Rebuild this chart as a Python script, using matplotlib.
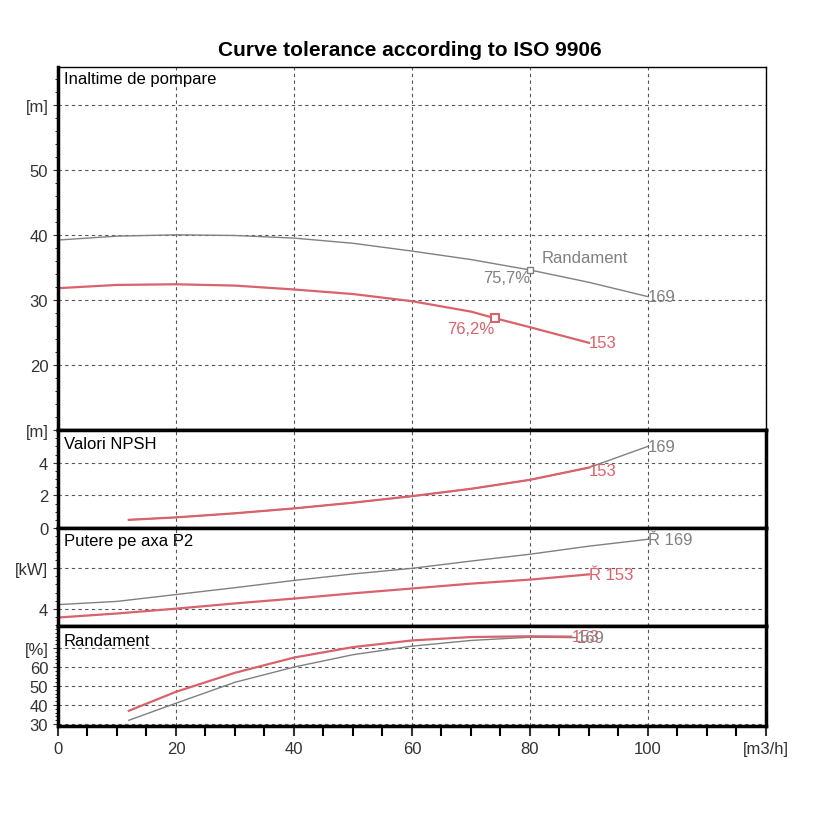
import numpy as np
import matplotlib.pyplot as plt
from matplotlib.ticker import MultipleLocator

plt.rcParams['font.family'] = ['Liberation Sans', 'DejaVu Sans']

RED = '#d9626b'
GREY = '#808080'

q169 = [0, 10, 20, 30, 40, 50, 60, 70, 80, 90, 100]
h169 = [39.2, 39.8, 40.0, 39.9, 39.5, 38.7, 37.5, 36.2, 34.6, 32.7, 30.5]
q153 = [0, 10, 20, 30, 40, 50, 60, 70, 74, 80, 90]
h153 = [31.8, 32.3, 32.4, 32.2, 31.6, 30.9, 29.8, 28.2, 27.2, 25.8, 23.4]

qn169 = [12, 20, 30, 40, 50, 60, 70, 80, 90, 100]
npsh169 = [0.5, 0.65, 0.9, 1.2, 1.55, 1.95, 2.4, 2.95, 3.7, 5.0]
qn153 = [12, 20, 30, 40, 50, 60, 70, 80, 90]
npsh153 = [0.5, 0.65, 0.9, 1.2, 1.55, 1.95, 2.4, 2.95, 3.7]

p169 = [4.1, 4.18, 4.35, 4.52, 4.7, 4.86, 5.0, 5.18, 5.35, 5.55, 5.72]
qp153 = [0, 10, 20, 30, 40, 50, 60, 70, 80, 90]
p153 = [3.78, 3.88, 4.0, 4.13, 4.25, 4.38, 4.5, 4.62, 4.72, 4.85]

qe169 = [12, 20, 30, 40, 50, 60, 70, 80, 88]
eta169 = [32, 41, 52, 60, 66.5, 71, 74, 75.7, 75.5]
qe153 = [12, 20, 30, 40, 50, 60, 70, 80, 87]
eta153 = [37, 47, 57, 65, 70.5, 74, 75.8, 76.2, 76]

W = 820
left, right = 58 / W, 766 / W
def rect(top, bot):
    return [left, 1 - bot / W, right - left, (bot - top) / W]

fig = plt.figure(figsize=(8.2, 8.2), dpi=100)
fig.text(0.5, 1 - 50 / W, 'Curve tolerance according to ISO 9906', ha='center', va='center',
         fontsize=15, fontweight='bold')

ax1 = fig.add_axes(rect(68, 431))
ax2 = fig.add_axes(rect(431, 529))
ax3 = fig.add_axes(rect(529, 627))
ax4 = fig.add_axes(rect(627, 727))
axes = [ax1, ax2, ax3, ax4]

for ax in axes:
    ax.set_xlim(0, 120)
    ax.xaxis.set_major_locator(MultipleLocator(20))
    ax.grid(True, color='#555555', linestyle=(0, (3, 3)), linewidth=0.8)
    ax.tick_params(axis='x', which='both', length=0, labelbottom=False)
    ax.tick_params(axis='y', labelsize=12, colors='#333333', direction='out')
    ax.yaxis.set_minor_locator(MultipleLocator(1))
    for s in ['left', 'bottom', 'right']:
        ax.spines[s].set_linewidth(2.5)
    ax.spines['top'].set_linewidth(1 if ax is ax1 else 2.5)

# head
ax1.plot(q169, h169, color=GREY, lw=1)
ax1.plot(q153, h153, color=RED, lw=1.6)
ax1.set_ylim(10, 65.8)
ax1.set_yticks([20, 30, 40, 50, 60])
ax1.set_yticklabels(['20', '30', '40', '50', '[m]'])
ax1.yaxis.set_minor_locator(MultipleLocator(2))
ax1.spines['right'].set_linewidth(1)
ax1.plot([80], [34.6], 's', mfc='white', mec=GREY, ms=5)
ax1.plot([74], [27.2], 's', mfc='white', mec=RED, ms=6, mew=1.5)
ax1.text(82, 35.8, 'Randament', color=GREY, fontsize=12)
ax1.text(72, 32.8, '75,7%', color=GREY, fontsize=12)
ax1.text(66, 24.9, '76,2%', color=RED, fontsize=12)
ax1.text(100, 30.5, '169', color=GREY, fontsize=12, va='center')
ax1.text(90, 23.4, '153', color=RED, fontsize=12, va='center')
ax1.text(1, 64, 'Inaltime de pompare', fontsize=12, va='center')

# npsh
ax2.plot(qn169, npsh169, color=GREY, lw=1)
ax2.plot(qn153, npsh153, color=RED, lw=1.6)
ax2.set_ylim(0, 6)
ax2.set_yticks([0, 2, 4, 6])
ax2.set_yticklabels(['0', '2', '4', '[m]'])
ax2.yaxis.set_minor_locator(MultipleLocator(0.5))
ax2.text(100, 5.0, '169', color=GREY, fontsize=12, va='center')
ax2.text(90, 3.5, '153', color=RED, fontsize=12, va='center')
ax2.text(1, 5.2, 'Valori NPSH', fontsize=12, va='center')

# power
ax3.plot(q169, p169, color=GREY, lw=1)
ax3.plot(qp153, p153, color=RED, lw=1.6)
ax3.set_ylim(3.57, 6.0)
ax3.set_yticks([4, 5])
ax3.set_yticklabels(['4', '[kW]'])
ax3.yaxis.set_minor_locator(MultipleLocator(0.2))
ax3.text(100, 5.72, 'Ř 169', color=GREY, fontsize=12, va='center')
ax3.text(90, 4.85, 'Ř 153', color=RED, fontsize=12, va='center')
ax3.text(1, 5.7, 'Putere pe axa P2', fontsize=12, va='center')

# efficiency
ax4.plot(qe169, eta169, color=GREY, lw=1)
ax4.plot(qe153, eta153, color=RED, lw=1.6)
ax4.set_ylim(29, 81.6)
ax4.set_yticks([30, 40, 50, 60, 70])
ax4.set_yticklabels(['30', '40', '50', '60', '[%]'])
ax4.yaxis.set_minor_locator(MultipleLocator(2))
ax4.text(87, 76, '153', color=RED, fontsize=12, va='center')
ax4.text(88, 75.5, '169', color=GREY, fontsize=12, va='center')
ax4.text(1, 74, 'Randament', fontsize=12, va='center')

ax4.tick_params(axis='x', which='major', length=7, width=1.5, labelbottom=True,
                labelsize=12, colors='#333333')
ax4.tick_params(axis='x', which='minor', length=7, width=1.5)
ax4.xaxis.set_minor_locator(MultipleLocator(5))
ax4.set_xticks([0, 20, 40, 60, 80, 100, 120])
ax4.set_xticklabels(['0', '20', '40', '60', '80', '100', '[m3/h]'])

fig.savefig('out.png', dpi=100)
